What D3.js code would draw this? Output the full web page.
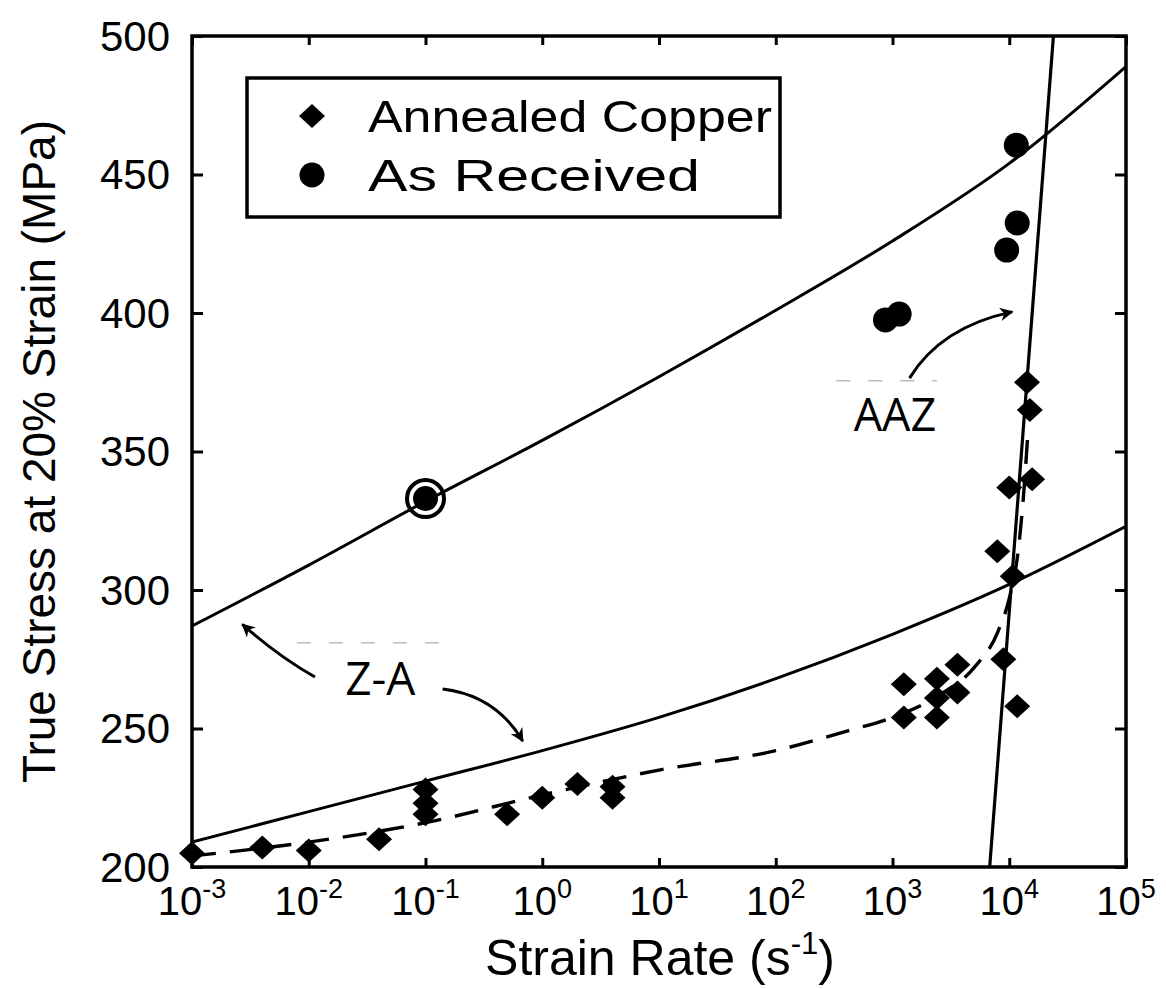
<!DOCTYPE html>
<html>
<head>
<meta charset="utf-8">
<script src="https://cdn.jsdelivr.net/npm/d3@7"></script>
<style>
  html, body { margin: 0; padding: 0; background: #fff; }
  svg { display: block; }
</style>
</head>
<body>
<svg id="chart" width="1166" height="989"></svg>
<script>
// ---- data ----
// Annealed copper: strain rate (1/s) and true stress at 20% strain (MPa)
const annealedRate   = [1e-3, 4e-3, 1e-2, 4e-2, 0.1, 0.1, 0.1, 0.5, 1, 2, 4, 4,
                        1250, 1250, 2400, 2400, 2400, 3600, 3600, 8900, 11700,
                        7900, 10700, 10000, 15700, 14200, 15000];
const annealedStress = [205, 207, 206, 210, 228, 223, 219, 219, 225, 230, 229, 225,
                        266, 254, 268, 261, 254, 273, 263, 275, 258,
                        314, 305, 337, 340, 375, 365];

// As-received copper
const receivedRate   = [0.1, 870, 1140, 9500, 11700, 11500];
const receivedStress = [333, 397.5, 399.6, 422.7, 432.5, 460.6];
const circledIndex = 0;

// Zerilli-Armstrong model curves, read at each decade of strain rate
const zaRate   = [1e-3, 1e-2, 1e-1, 1, 1e1, 1e2, 1e3, 1e4, 1e5];
const zaUpper  = [287, 309, 332, 354, 377, 401, 426, 454, 489];
const zaLower  = [209, 220, 231, 242, 254, 268, 284, 302, 323];

// AAZ model line
const aazRate   = [6800, 23900];
const aazStress = [200, 500];

// Dashed trend through the annealed data
const fitRate   = [1e-3, 1e-2, 1e-1, 1, 10, 100, 400, 1000, 2500, 5000, 8000, 10000, 12000, 13300, 14500];
const fitStress = [204, 209, 216, 226, 235, 242, 249, 254, 262, 272, 285, 297, 315, 335, 358];

// Axis ticks
const rateExponents = [-3, -2, -1, 0, 1, 2, 3, 4, 5];
const stressTicks = [200, 250, 300, 350, 400, 450, 500];

// Legend
const legendLabels = ["Annealed Copper", "As Received"];

// ---- layout ----
const svg = d3.select("#chart");
const plot = { left: 192, right: 1126, top: 36, bottom: 867 };

const x = d3.scaleLog().domain([1e-3, 1e5]).range([plot.left, plot.right]);
const y = d3.scaleLinear().domain([200, 500]).range([plot.bottom, plot.top]);

const FONT = "'Liberation Sans', Arial, Helvetica, sans-serif";
const NOTE_FONT = "'Open Sans', 'DejaVu Sans', sans-serif";

// ---- axes (inward ticks on all four sides) ----
const decades = rateExponents.map(e => Math.pow(10, e));
const xBottom = d3.axisBottom(x).tickValues(decades).tickSize(-9).tickFormat("");
const xTop = d3.axisTop(x).tickValues(decades).tickSize(-9).tickFormat("");
const yLeft = d3.axisLeft(y).tickValues(stressTicks).tickSize(-11).tickPadding(22);
const yRight = d3.axisRight(y).tickValues(stressTicks).tickSize(-11).tickFormat("");

function styleAxis(g) {
  g.select(".domain").remove();
  g.selectAll(".tick line").attr("stroke", "#000").attr("stroke-width", 3);
}

svg.append("g").attr("transform", `translate(0,${plot.bottom})`).call(xBottom).call(styleAxis);
svg.append("g").attr("transform", `translate(0,${plot.top})`).call(xTop).call(styleAxis);
svg.append("g").attr("transform", `translate(${plot.right},0)`).call(yRight).call(styleAxis);
const gy = svg.append("g").attr("transform", `translate(${plot.left},0)`).call(yLeft).call(styleAxis);
gy.selectAll(".tick text")
  .attr("font-family", FONT).attr("font-size", 42).attr("fill", "#000")
  .attr("dy", "0.34em");

// x tick labels as powers of ten
const xl = svg.append("g").attr("font-family", FONT).attr("fill", "#000");
rateExponents.forEach(e => {
  const t = xl.append("text")
    .attr("x", x(Math.pow(10, e)))
    .attr("y", plot.bottom + 48)
    .attr("text-anchor", "middle")
    .attr("font-size", 40);
  t.append("tspan").text("10");
  t.append("tspan").attr("font-size", 27).attr("dy", -17).text(String(e));
});

// frame
svg.append("rect")
  .attr("x", plot.left).attr("y", plot.top)
  .attr("width", plot.right - plot.left).attr("height", plot.bottom - plot.top)
  .attr("fill", "none").attr("stroke", "#000").attr("stroke-width", 3.5);

// axis titles
const xt = svg.append("text")
  .attr("x", 660)
  .attr("y", 975)
  .attr("text-anchor", "middle")
  .attr("font-family", FONT).attr("font-size", 50).attr("fill", "#000");
xt.append("tspan").text("Strain Rate (s");
xt.append("tspan").attr("font-size", 31).attr("dy", -21).text("-1");
xt.append("tspan").attr("dy", 21).text(")");

svg.append("text")
  .attr("transform", `translate(55,${(plot.top + plot.bottom) / 2}) rotate(-90)`)
  .attr("text-anchor", "middle")
  .attr("font-family", FONT).attr("font-size", 46).attr("fill", "#000")
  .text("True Stress at 20% Strain (MPa)");

// ---- clip to plot area ----
svg.append("clipPath").attr("id", "clip")
  .append("rect")
  .attr("x", plot.left).attr("y", plot.top)
  .attr("width", plot.right - plot.left).attr("height", plot.bottom - plot.top);

const g = svg.append("g").attr("clip-path", "url(#clip)");

const curveLine = (rates, vals, curve) => d3.line()
  .x((d, i) => x(rates[i])).y((d, i) => y(vals[i]))
  .curve(curve)(vals);

// Z-A curves
[zaUpper, zaLower].forEach(vals => {
  g.append("path")
    .attr("d", curveLine(zaRate, vals, d3.curveMonotoneX))
    .attr("fill", "none").attr("stroke", "#000").attr("stroke-width", 3);
});

// AAZ line
g.append("path")
  .attr("d", curveLine(aazRate, aazStress, d3.curveLinear))
  .attr("fill", "none").attr("stroke", "#000").attr("stroke-width", 3.2);

// dashed trend
g.append("path")
  .attr("d", curveLine(fitRate, fitStress, d3.curveMonotoneX))
  .attr("fill", "none").attr("stroke", "#000").attr("stroke-width", 3.4)
  .attr("stroke-dasharray", "24,14");

// ---- markers ----
const diamond = (cx, cy, rx, ry) =>
  `M${cx},${cy - ry}L${cx + rx},${cy}L${cx},${cy + ry}L${cx - rx},${cy}Z`;

svg.append("g").selectAll("path")
  .data(annealedStress)
  .join("path")
  .attr("d", (d, i) => diamond(x(annealedRate[i]), y(d), 13, 12))
  .attr("fill", "#000");

svg.append("g").selectAll("circle")
  .data(receivedStress)
  .join("circle")
  .attr("cx", (d, i) => x(receivedRate[i]))
  .attr("cy", d => y(d))
  .attr("r", 12.5)
  .attr("fill", "#000");

// ring around the highlighted point
svg.append("circle")
  .attr("cx", x(receivedRate[circledIndex]))
  .attr("cy", y(receivedStress[circledIndex]))
  .attr("r", 18.5)
  .attr("fill", "none").attr("stroke", "#000").attr("stroke-width", 4);

// ---- annotations ----
const defs = svg.append("defs");
defs.append("marker")
  .attr("id", "arrow").attr("viewBox", "0 0 10 10")
  .attr("refX", 9).attr("refY", 5)
  .attr("markerWidth", 5.5).attr("markerHeight", 4.5)
  .attr("orient", "auto").attr("markerUnits", "strokeWidth")
  .append("path").attr("d", "M0,0L10,5L0,10L3,5Z").attr("fill", "#000");

const P = (rate, stress) => [x(rate), y(stress)];
function arrow(from, ctrl, to) {
  const a = P(...from), c = P(...ctrl), b = P(...to);
  svg.append("path")
    .attr("d", `M${a[0]},${a[1]}Q${c[0]},${c[1]} ${b[0]},${b[1]}`)
    .attr("fill", "none").attr("stroke", "#000").attr("stroke-width", 3)
    .attr("marker-end", "url(#arrow)");
}

// faint rules left over above the labels
[[[0.0079, 281], [0.179, 281]], [[330, 375.5], [2400, 375.5]]].forEach(([p, q]) => {
  svg.append("line")
    .attr("x1", P(...p)[0]).attr("y1", P(...p)[1])
    .attr("x2", P(...q)[0]).attr("y2", P(...q)[1])
    .attr("stroke", "#bbb").attr("stroke-width", 1.5)
    .attr("stroke-dasharray", "14,18");
});

// Z-A label and its two arrows
svg.append("text")
  .attr("x", x(0.041)).attr("y", y(262))
  .attr("text-anchor", "middle")
  .attr("font-family", NOTE_FONT).attr("font-size", 46).attr("fill", "#000")
  .text("Z-A");
arrow([0.0113, 268.6], [0.0055, 276], [0.0027, 287.6]);
arrow([0.14, 264.3], [0.4, 262], [0.68, 245.5]);

// AAZ label and its arrow
svg.append("text")
  .attr("x", x(1050)).attr("y", y(357.5))
  .attr("text-anchor", "middle")
  .attr("font-family", NOTE_FONT).attr("font-size", 45).attr("fill", "#000")
  .text("AAZ");
arrow([1400, 376.5], [2600, 395], [10600, 400.4]);

// ---- legend ----
const lg = svg.append("g");
lg.append("rect")
  .attr("x", 247).attr("y", 78).attr("width", 533).attr("height", 139)
  .attr("fill", "#fff").attr("stroke", "#000").attr("stroke-width", 3.5);
const legendWidths = [404, 332];
legendLabels.forEach((lab, i) => {
  const cy = 116 + i * 59;
  if (i === 0) {
    lg.append("path").attr("d", diamond(312, cy, 13, 12)).attr("fill", "#000");
  } else {
    lg.append("circle").attr("cx", 312).attr("cy", cy).attr("r", 12.5).attr("fill", "#000");
  }
  lg.append("text")
    .attr("x", 368).attr("y", cy + 16)
    .attr("font-family", FONT).attr("font-size", 45).attr("fill", "#000")
    .attr("textLength", legendWidths[i]).attr("lengthAdjust", "spacingAndGlyphs")
    .text(lab);
});
</script>
</body>
</html>
